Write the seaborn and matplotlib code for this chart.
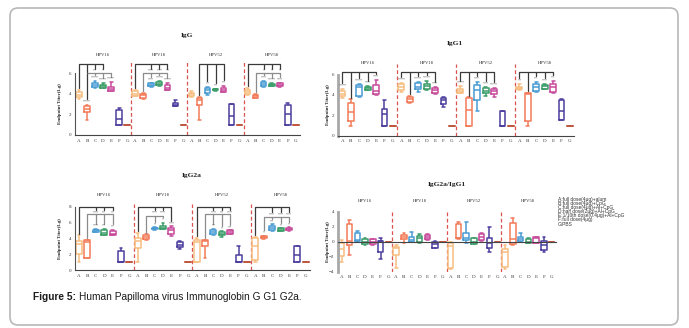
import matplotlib
matplotlib.use("Agg")
import matplotlib.pyplot as plt
from matplotlib.patches import FancyBboxPatch
from matplotlib.transforms import blended_transform_factory
import pandas as pd
import seaborn as sns

W, H = 689, 328

LETTERS = list("ABCDEFG")
HPV_TYPES = ["HPV16", "HPV18", "HPV52", "HPV58"]
COLORS = ["#f7bd80", "#f27a59", "#4a9bd4", "#3a9d68", "#c74a9b", "#4b3d9e", "#c0583f"]

LEGEND_LINES = [
    "A:full dose(4μg)+alum",
    "B:full dose(4μg)+CpG",
    "C:full dose(4μg)+Al+CpG",
    "D:half dose(2μg)+Al+CpG",
    "E:1/10th dose(0.4μg)+Al+CpG",
    "F:full dose(4μg)",
    "G:PBS",
]

# each box: min, q1, median, q3, max  (rows A..G)
IGG_16 = [[3.5, 3.65, 3.9, 4.2, 4.35], [1.5, 2.2, 2.5, 2.8, 2.9], [4.6, 4.7, 4.85, 5.0, 5.2],
          [4.55, 4.6, 4.75, 4.9, 5.0], [4.3, 4.3, 4.45, 4.7, 5.1], [1.0, 1.0, 1.6, 2.4, 2.6], [1.0] * 5]
IGG_18 = [[3.8, 3.8, 4.0, 4.3, 4.4], [3.5, 3.6, 3.85, 4.0, 4.1], [4.7, 4.75, 4.85, 5.0, 5.05],
          [4.8, 4.85, 4.95, 5.1, 5.2], [4.4, 4.4, 4.6, 4.9, 5.0], [2.8, 2.8, 2.95, 3.1, 3.4], [1.0] * 5]
IGG_52 = [[3.7, 3.8, 3.95, 4.1, 4.3], [1.5, 2.9, 3.4, 3.6, 3.7], [3.9, 4.1, 4.35, 4.6, 4.7],
          [4.3, 4.35, 4.42, 4.5, 4.5], [4.2, 4.2, 4.4, 4.6, 4.8], [1.0, 1.0, 1.85, 3.0, 3.0], [1.0] * 5]
IGG_58 = [[3.9, 3.95, 4.15, 4.4, 4.6], [3.6, 3.6, 3.75, 3.9, 4.0], [4.7, 4.75, 4.95, 5.15, 5.2],
          [4.75, 4.75, 4.85, 4.95, 5.0], [4.7, 4.75, 4.85, 5.0, 5.05], [1.0, 1.0, 2.0, 2.9, 3.1], [1.0] * 5]

IGG1_16 = [[3.7, 3.85, 4.1, 4.4, 4.6], [1.0, 1.4, 2.3, 3.25, 3.55], [3.75, 3.85, 4.8, 5.0, 5.1],
           [4.45, 4.5, 4.63, 4.75, 4.85], [4.0, 4.1, 4.4, 4.95, 5.45], [1.0, 1.0, 2.15, 2.6, 3.5], [1.0] * 5]
IGG1_18 = [[4.25, 4.5, 4.75, 5.1, 5.2], [3.25, 3.35, 3.6, 3.8, 3.9], [4.3, 4.55, 4.8, 5.15, 5.25],
           [4.45, 4.55, 4.85, 5.1, 5.35], [4.1, 4.15, 4.45, 4.7, 4.75], [2.85, 3.15, 3.5, 3.65, 3.75], [1.0] * 5]
IGG1_52 = [[4.2, 4.2, 4.4, 4.6, 4.85], [1.0, 1.0, 2.5, 3.65, 3.75], [2.4, 3.5, 4.45, 5.0, 5.3],
           [3.9, 4.15, 4.4, 4.7, 4.8], [3.8, 4.1, 4.35, 4.6, 4.7], [1.0, 1.0, 1.0, 2.45, 2.45], [1.0] * 5]
IGG1_58 = [[4.5, 4.55, 4.65, 4.8, 5.05], [1.0, 1.4, 4.05, 4.15, 4.2], [4.3, 4.4, 4.8, 5.1, 5.25],
           [4.55, 4.6, 4.85, 5.0, 5.1], [4.2, 4.3, 4.8, 5.1, 5.4], [1.5, 1.55, 2.4, 3.5, 3.6], [1.0] * 5]

IGG2A_16 = [[1.0, 2.0, 3.3, 3.7, 4.4], [1.5, 1.5, 3.5, 3.8, 3.85], [4.8, 4.85, 5.0, 5.1, 5.2],
            [4.4, 4.4, 4.7, 5.0, 5.2], [4.4, 4.4, 4.6, 4.9, 5.1], [1.0, 1.0, 1.0, 2.35, 2.8], [1.0] * 5]
IGG2A_18 = [[1.0, 2.8, 3.7, 4.1, 4.7], [3.8, 3.9, 4.15, 4.4, 4.5], [5.1, 5.15, 5.25, 5.35, 5.4],
            [5.2, 5.2, 5.35, 5.6, 6.0], [4.3, 4.6, 5.0, 5.3, 5.5], [2.7, 2.9, 3.2, 3.5, 3.7], [1.0] * 5]
IGG2A_52 = [[1.0, 1.0, 3.6, 3.8, 4.05], [1.5, 3.0, 3.7, 3.8, 3.85], [4.4, 4.5, 4.75, 5.1, 5.2],
            [4.2, 4.4, 4.6, 4.8, 4.9], [4.6, 4.6, 4.8, 5.0, 5.0], [1.0, 1.0, 1.0, 1.9, 3.0], [1.0] * 5]
IGG2A_58 = [[1.0, 1.3, 3.0, 4.1, 4.2], [3.95, 4.0, 4.15, 4.3, 4.35], [4.9, 5.0, 5.3, 5.6, 5.8],
            [4.9, 4.95, 5.1, 5.25, 5.3], [4.9, 5.0, 5.15, 5.3, 5.4], [1.0, 1.0, 1.9, 3.0, 3.0], [1.0] * 5]

RATIO_16 = [[-2.65, -1.85, -1.0, -0.2, 0.25], [-1.8, -0.5, 0.1, 2.3, 2.9], [0.0, 0.05, 0.2, 1.1, 1.4],
            [-0.45, -0.35, 0.0, 0.35, 0.55], [-0.4, -0.3, 0.0, 0.3, 0.4], [-2.35, -1.4, 0.15, 0.15, 0.55], [0.0] * 5]
RATIO_18 = [[-3.55, -1.8, -0.8, -0.65, -0.45], [-0.2, 0.35, 0.65, 0.9, 1.1], [-0.1, 0.0, 0.22, 0.67, 1.25],
            [-0.2, 0.0, 0.45, 0.8, 1.0], [0.27, 0.35, 0.58, 0.9, 1.0], [-0.9, -0.8, -0.3, -0.1, 0.1], [0.0] * 5]
RATIO_52 = [[-3.6, -3.5, -0.55, -0.2, 0.0], [0.35, 0.45, 0.55, 2.3, 2.6], [-0.22, 0.22, 0.45, 1.1, 2.6],
            [-0.35, -0.3, 0.0, 0.45, 0.55], [0.13, 0.22, 0.65, 1.0, 1.2], [-1.4, -0.8, -0.2, 0.53, 1.9], [0.0] * 5]
RATIO_58 = [[-3.65, -3.35, -1.4, -1.0, -0.45], [-0.4, -0.3, 0.35, 2.45, 3.1], [0.0, 0.1, 0.4, 0.67, 1.1],
            [-0.2, -0.2, 0.0, 0.3, 0.45], [-0.22, -0.22, 0.45, 0.58, 0.65], [-1.35, -1.1, -0.45, 0.1, 0.6], [0.0] * 5]

# brackets: (group, height, first, last, [(letter, stars, drop end or None)])
IGG_BRACKETS = [
    (0, 6.85, "A", "D", [("A", "", None), ("B", "****", None), ("C", "**", 6.45), ("D", "*", 6.45)]),
    (0, 6.05, "B", "E", [("C", "****", None), ("D", "****", None), ("E", "****", None)]),
    (1, 6.85, "A", "E", [("A", "", None), ("C", "***", 6.45), ("D", "***", 6.45), ("E", "**", 6.45)]),
    (1, 6.05, "B", "E", [("B", "", None), ("C", "***", None), ("D", "****", None), ("E", "****", None)]),
    (2, 6.85, "B", "E", [("B", "", None), ("C", "**", None), ("D", "**", None), ("E", "**", None)]),
    (3, 6.85, "A", "E", [("A", "", None), ("C", "*", 6.45), ("D", "*", 6.45), ("E", "*", 6.45)]),
    (3, 6.05, "B", "E", [("B", "", None), ("C", "***", None), ("D", "****", None), ("E", "***", None)]),
]
IGG1_BRACKETS = [
    (0, 6.25, "A", "E", [("A", "****", None), ("B", "", None), ("C", "****", None), ("D", "***", None), ("E", "***", None)]),
    (1, 6.25, "A", "E", [("A", "****", None), ("B", "", None), ("C", "****", None), ("D", "****", None), ("E", "***", None)]),
    (2, 6.25, "A", "E", [("A", "****", None), ("B", "", None), ("C", "***", None), ("D", "***", None), ("E", "****", None)]),
    (3, 6.25, "A", "E", [("A", "**", None), ("B", "", None), ("C", "**", None), ("D", "***", None), ("E", "**", None)]),
]
IGG2A_BRACKETS = [
    (0, 8.0, "A", "E", [("A", "", None), ("C", "***", 7.55), ("D", "**", 7.55), ("E", "**", 7.55)]),
    (0, 7.1, "B", "E", [("B", "", None), ("C", "***", None), ("D", "**", None), ("E", "**", None)]),
    (1, 8.0, "A", "E", [("A", "", None), ("C", "***", 7.55), ("D", "***", 7.55), ("E", "***", None)]),
    (1, 6.85, "B", "D", [("B", "", None), ("C", "*", None), ("D", "*", None)]),
    (2, 8.0, "A", "E", [("A", "", None), ("C", "***", 7.55), ("D", "**", 7.55), ("E", "***", 7.55)]),
    (2, 7.1, "B", "E", [("B", "", None), ("C", "**", None), ("D", "*", None), ("E", "**", None)]),
    (3, 8.0, "A", "E", [("A", "", None), ("C", "***", 7.35), ("D", "***", 7.35), ("E", "***", 7.35)]),
    (3, 6.7, "B", "E", [("B", "*", None), ("C", "**", None), ("D", "*", None), ("E", "*", None)]),
]


def long_frame(groups):
    rows = []
    for hpv, boxes in zip(HPV_TYPES, groups):
        for letter, vals in zip(LETTERS, boxes):
            for v in vals:
                rows.append({"cat": f"{hpv}_{letter}", "letter": letter, "value": v})
    return pd.DataFrame(rows)


def add_axes_px(fig, x0, x1, y_bot, y_top):
    return fig.add_axes([x0 / W, 1 - y_bot / H, (x1 - x0) / W, (y_bot - y_top) / H])


def draw_brackets(ax, groups, specs, yrange):
    for g, y, first, last, drops in specs:
        xa = g * 7 + LETTERS.index(first)
        xb = g * 7 + LETTERS.index(last)
        color = "#3a3a3a" if y == max(s[1] for s in specs if s[0] == g) else "#8c8c8c"
        ax.plot([xa, xb], [y, y], color=color, lw=0.9, solid_capstyle="butt", zorder=3)
        for letter, stars, end in drops:
            i = LETTERS.index(letter)
            top = groups[g][i][4]
            if end is None:
                end = top + (0.08 if stars else 0.025) * yrange
            x = g * 7 + i
            ax.plot([x, x], [y, end], color=color, lw=0.9, zorder=3)
            if stars:
                ax.text(x, end - 0.005 * yrange, stars, ha="center", va="top",
                        fontsize=2.9, color="#555555")


def draw_panel(fig, px, groups, ylim, bounds, yticks, title, title_xy, hpv_y, label_x,
               spine_style, brackets=None, ratio=False):
    x0, x1, yb, yt = px
    ax = add_axes_px(fig, x0, x1, yb, yt)
    order = [f"{h}_{l}" for h in HPV_TYPES for l in LETTERS]
    sns.boxplot(data=long_frame(groups), x="cat", y="value", hue="letter", order=order,
                hue_order=LETTERS, palette=COLORS, fill=False, whis=(0, 100), width=0.7,
                linewidth=1.1, dodge=False, legend=False, ax=ax)
    ax.set_xlim(-0.5, 27.5)
    ax.set_ylim(*ylim)
    ax.set_xticks(range(28))
    ax.set_xticklabels(LETTERS * 4)
    ax.set_yticks(yticks)
    ax.set_xlabel("")
    sns.despine(ax=ax)
    spine_color, spine_lw = spine_style
    ax.spines["left"].set_color(spine_color)
    ax.spines["left"].set_linewidth(spine_lw)
    ax.spines["left"].set_bounds(*bounds)
    ax.spines["bottom"].set_color("#444444")
    ax.spines["bottom"].set_linewidth(0.8)
    pad = 1.2
    if ratio:
        ax.spines["bottom"].set_position(("data", 0))
        pad = (0 - ylim[0]) / (ylim[1] - ylim[0]) * (yb - yt) * 0.72 + 1.2
    ax.tick_params(axis="x", length=1.5, width=0.5, labelsize=3.6, pad=pad, colors="#333333")
    ax.tick_params(axis="y", length=1.5, width=0.5, labelsize=3.6, pad=1, colors="#333333")
    for sep in (6.5, 13.5, 20.5):
        ax.axvline(sep, color="#d9534f", lw=0.9, ls=(0, (3, 2)), zorder=1)
    ax.set_ylabel("Endpoint Titer(Lg)", fontsize=3.6, fontweight="bold", color="#222222")
    mid = ((bounds[0] + bounds[1]) / 2 - ylim[0]) / (ylim[1] - ylim[0])
    ax.yaxis.set_label_coords(-(x0 - label_x) / (x1 - x0), mid)

    trans = blended_transform_factory(ax.transData, fig.transFigure)
    for g, hpv in enumerate(HPV_TYPES):
        ax.text(g * 7 + 3, 1 - hpv_y / H, hpv, transform=trans, ha="center", va="center",
                fontsize=3.4, color="#333333")
    fig.text(title_xy[0] / W, 1 - title_xy[1] / H, title, ha="center", va="center",
             fontsize=5.4, fontweight="bold", color="#222222")
    if brackets:
        draw_brackets(ax, groups, brackets, ylim[1] - ylim[0])
    return ax


sns.set_style("white")
plt.rcParams["font.family"] = ["Liberation Serif", "DejaVu Serif"]

fig = plt.figure(figsize=(W / 100, H / 100), dpi=100)

border = FancyBboxPatch((0.10, 0.03), 6.68, 3.17, boxstyle="round,pad=0,rounding_size=0.08",
                        transform=fig.dpi_scale_trans, facecolor="none", edgecolor="#b8b8b8", lw=1.2)
fig.add_artist(border)

draw_panel(fig, (75.0, 299.8, 135.0, 60.8), [IGG_16, IGG_18, IGG_52, IGG_58], (0, 7.2), (0, 6),
           [0, 2, 4, 6], "IgG", (186.5, 36), 55, 62, ("#555555", 0.8), IGG_BRACKETS)
draw_panel(fig, (338.1, 574.1, 135.7, 64.3), [IGG1_16, IGG1_18, IGG1_52, IGG1_58], (0, 7.0), (0, 6),
           [0, 2, 4, 6], "IgG1", (455, 43), 62.7, 330, ("#a8a8a8", 2.0), IGG1_BRACKETS)
draw_panel(fig, (74.8, 310.0, 270.0, 204.3), [IGG2A_16, IGG2A_18, IGG2A_52, IGG2A_58], (0, 8.3), (0, 8),
           [0, 2, 4, 6, 8], "IgG2a", (191.5, 175), 195, 62, ("#555555", 0.8), IGG2A_BRACKETS)
draw_panel(fig, (337.8, 555.6, 271.7, 209.5), [RATIO_16, RATIO_18, RATIO_52, RATIO_58], (-4, 4.3), (-4, 4),
           [-4, -2, 0, 2, 4], "IgG2a/IgG1", (446.5, 185), 200.7, 330, ("#a8a8a8", 2.0), ratio=True)

for i, line in enumerate(LEGEND_LINES):
    fig.text(557.5 / W, 1 - (199 + i * 4.2) / H, line, ha="left", va="center", fontsize=3.5,
             family=["Liberation Sans", "DejaVu Sans"], color="#333333")

cap_font = ["Liberation Sans Narrow", "Liberation Sans", "DejaVu Sans"]
bold = fig.text(33 / W, 1 - 297.5 / H, "Figure 5:", ha="left", va="center", fontsize=7.3,
                fontweight="bold", family=cap_font, color="#1a1a1a")
fig.canvas.draw()
ext = bold.get_window_extent()
fig.text((ext.x1 + 3) / W, 1 - 297.5 / H, "Human Papilloma virus Immunoglobin G G1 G2a.",
         ha="left", va="center", fontsize=7.3, family=cap_font, color="#1a1a1a")

fig.savefig("out.png", dpi=100)
